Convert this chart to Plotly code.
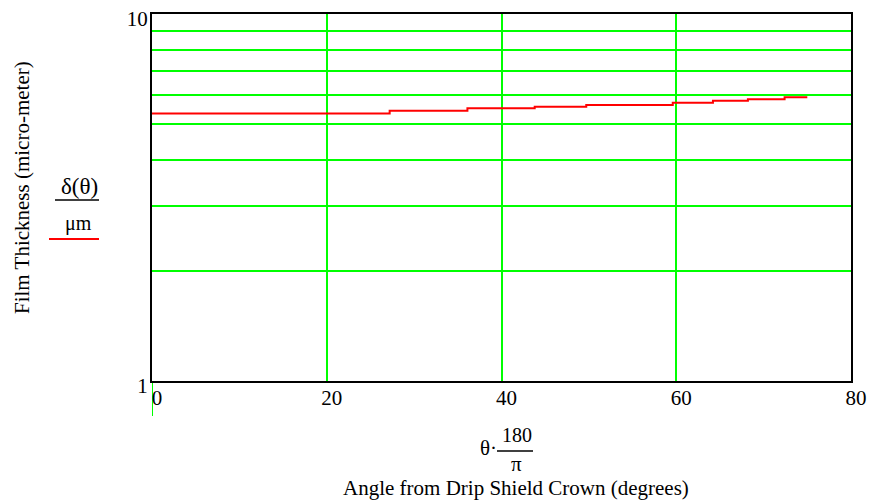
import plotly.graph_objects as go

# Film thickness along the drip shield, stepped levels vs angle (degrees)
angle_deg = [0, 27.2, 36.1, 43.8, 49.7, 59.6, 64.2, 68.2, 72.4, 75.0]
thickness_um = [5.36, 5.45, 5.54, 5.59, 5.65, 5.73, 5.80, 5.86, 5.93, 5.93]

x_ticks = [0, 20, 40, 60, 80]
y_ticks = [1, 10]
y_minor_grid = [2, 3, 4, 5, 6, 7, 8, 9]

W, H = 872, 503
L, R, T, B = 152, 21, 14, 122
PW, PH = W - L - R, H - T - B

SERIF = "Liberation Serif, Times New Roman, serif"
GRID = "#00ff00"


def px(x):
    return (x - L) / PW


def py(y):
    return (H - B - y) / PH


fig = go.Figure()
fig.add_trace(go.Scatter(
    x=angle_deg, y=thickness_um, mode="lines",
    line=dict(color="#ff0000", width=2, shape="hv"),
    showlegend=False, hoverinfo="skip",
))

fig.update_layout(
    template="none",
    width=W, height=H,
    margin=dict(l=L, r=R, t=T, b=B, pad=0),
    paper_bgcolor="white", plot_bgcolor="white",
    font=dict(family=SERIF, size=21, color="black"),
    showlegend=False,
    xaxis=dict(
        range=[0, 80], tickvals=x_ticks, ticktext=[str(v) for v in x_ticks],
        showgrid=True, gridcolor=GRID, gridwidth=2,
        showline=True, linecolor="black", linewidth=2, mirror=True,
        ticks="", zeroline=False, automargin=False,
        ticklabelshift=5, ticklabelstandoff=-3, ticklabeloverflow="allow",
        tickfont=dict(family=SERIF, size=21),
    ),
    yaxis=dict(
        type="log", range=[0, 1], tickvals=y_ticks, ticktext=["1", "10"],
        showgrid=False,
        minor=dict(tickvals=y_minor_grid, showgrid=True, gridcolor=GRID,
                   gridwidth=2, ticks=""),
        showline=True, linecolor="black", linewidth=2, mirror=True,
        ticks="", zeroline=False, automargin=False,
        ticklabelshift=5, ticklabelstandoff=-2, ticklabeloverflow="allow",
        tickfont=dict(family=SERIF, size=21),
    ),
)

# x = 0 grid line continuing below the frame
fig.add_shape(type="line", xref="x", yref="paper", x0=0, x1=0,
              y0=0, y1=py(416), line=dict(color=GRID, width=2), layer="below")


def text(s, x, y, size=21, angle=0):
    fig.add_annotation(text=s, xref="paper", yref="paper", x=px(x), y=py(y),
                       xanchor="center", yanchor="middle", showarrow=False,
                       textangle=angle, font=dict(family=SERIF, size=size))


def hline(x0, x1, y, color="black", width=1.5):
    fig.add_shape(type="line", xref="paper", yref="paper",
                  x0=px(x0), x1=px(x1), y0=py(y), y1=py(y),
                  line=dict(color=color, width=width))


# y-axis title with the plotted expression and its line key
text("Film Thickness (micro-meter)", 22, 188, angle=-90)
text("δ(θ)", 79, 186, size=23)
hline(55, 99, 200)
text("μm", 78, 223, size=20)
hline(49, 99, 239, color="#ff0000", width=2)

# x-axis expression and title
text("θ·", 488, 448)
text("180", 517, 435, size=20)
hline(497, 533, 451)
text("π", 516, 464)
text("Angle from Drip Shield Crown (degrees)", 516, 488)

fig.write_html("out.html")
